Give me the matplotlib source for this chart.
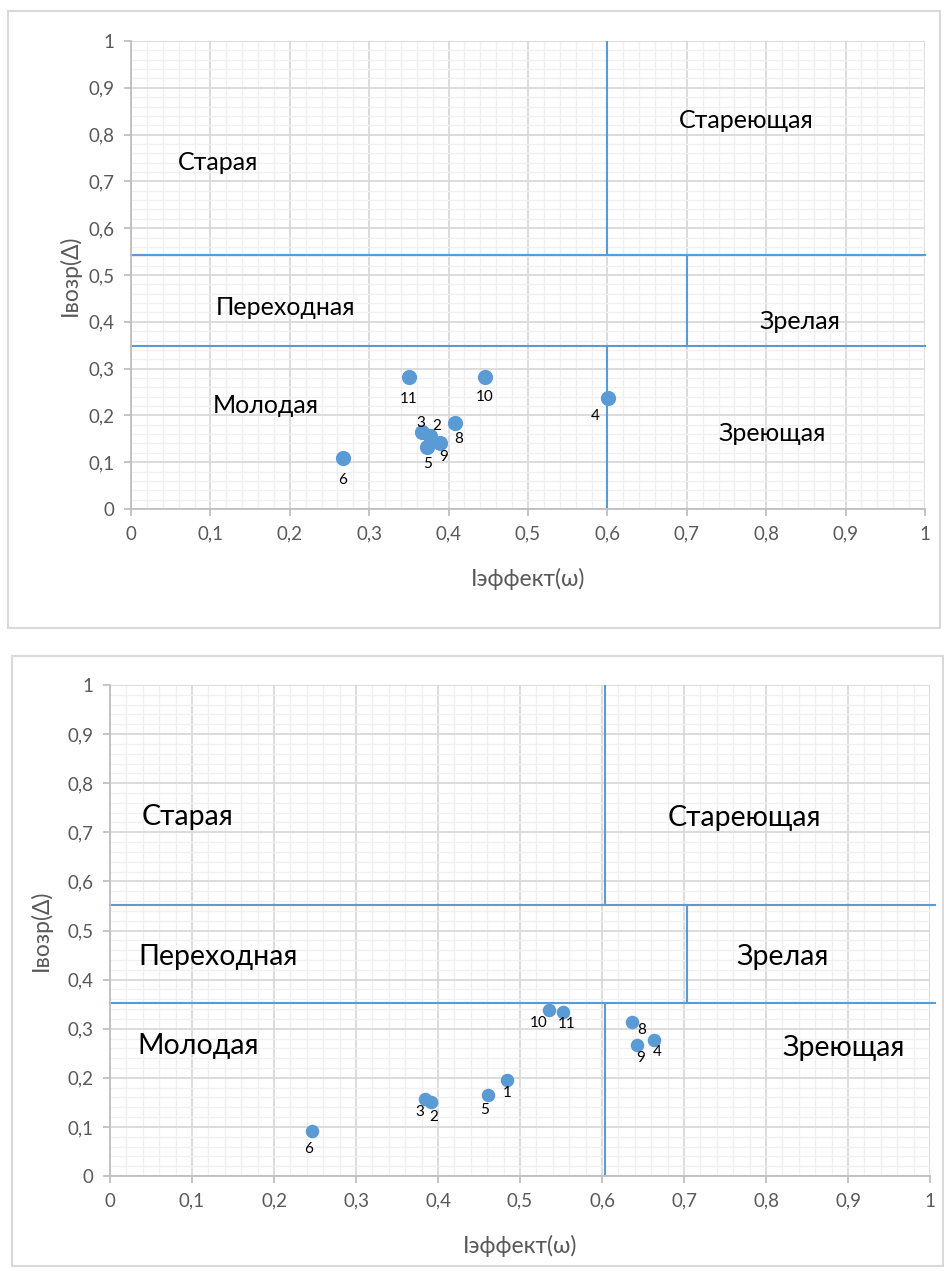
import matplotlib
matplotlib.use("Agg")
import matplotlib.pyplot as plt
import numpy as np
from matplotlib.ticker import MultipleLocator, FuncFormatter
from matplotlib.patches import Rectangle

plt.rcParams['font.family'] = ['Lato', 'DejaVu Sans']

# --- data: upper chart ---
top_ids = ['11', '10', '3', '2', '8', '5', '9', '6', '4']
top_x = [0.350, 0.446, 0.366, 0.376, 0.408, 0.373, 0.389, 0.267, 0.601]
top_y = [0.282, 0.282, 0.165, 0.156, 0.183, 0.133, 0.142, 0.110, 0.237]
top_lbl_off = [(0, -22), (0, -20), (-1, 9), (7, 10), (4, -16), (0, -17), (4, -14), (0, -22), (-13, -18)]

# --- data: lower chart ---
bot_ids = ['6', '3', '2', '5', '1', '10', '11', '8', '9', '4']
bot_x = [0.246, 0.384, 0.392, 0.461, 0.484, 0.535, 0.552, 0.637, 0.643, 0.663]
bot_y = [0.092, 0.157, 0.151, 0.164, 0.196, 0.338, 0.333, 0.313, 0.267, 0.277]
bot_lbl_off = [(-3, -18), (-5, -13), (2, -15), (-3, -15), (0, -13), (-10, -13), (4, -12), (9, -8), (3, -13), (4, -12)]

# zone borders
top_h = [0.543, 0.348]
bot_h = [0.552, 0.352]
top_v = [0.6, 0.7]
bot_v = [0.604, 0.704]
zone_names = ['Старая', 'Стареющая', 'Переходная', 'Зрелая', 'Молодая', 'Зреющая']
top_zone_xy = [(0.11, 0.74), (0.775, 0.831), (0.194, 0.43), (0.843, 0.40), (0.17, 0.222), (0.807, 0.162)]
bot_zone_xy = [(0.095, 0.731), (0.774, 0.729), (0.132, 0.446), (0.82, 0.446), (0.107, 0.265), (0.894, 0.261)]

blue = '#5b9bd5'
grey_txt = '#595959'

fig = plt.figure(figsize=(9.44, 12.71), dpi=100)

# chart frames
fig.add_artist(Rectangle((8/944, 1-628/1271), 932/944, 617/1271, transform=fig.transFigure,
                         fill=False, edgecolor='#d9d9d9', lw=1.5))
fig.add_artist(Rectangle((12/944, 1-1266/1271), 931/944, 610/1271, transform=fig.transFigure,
                         fill=False, edgecolor='#d9d9d9', lw=1.5))


def fmt(v, pos):
    if abs(v - round(v)) < 1e-9:
        return str(int(round(v)))
    return f"{v:.1f}".replace('.', ',')


def draw(ax, xs, ys, ids, offs, hl, vl, zxy, fs_zone, hx_max, ms, ypad):
    ax.set_xlim(0, 1)
    ax.set_ylim(0, 1)
    ax.xaxis.set_major_locator(MultipleLocator(0.1))
    ax.yaxis.set_major_locator(MultipleLocator(0.1))
    ax.xaxis.set_minor_locator(MultipleLocator(0.02))
    ax.yaxis.set_minor_locator(MultipleLocator(0.02))
    ax.xaxis.set_major_formatter(FuncFormatter(fmt))
    ax.yaxis.set_major_formatter(FuncFormatter(fmt))
    ax.grid(which='minor', color='#f0f0f0', lw=1.0)
    ax.grid(which='major', color='#d9d9d9', lw=1.3)
    ax.set_axisbelow(True)
    for s in ['top', 'right']:
        ax.spines[s].set_visible(False)
    for s in ['left', 'bottom']:
        ax.spines[s].set_color('#bfbfbf')
        ax.spines[s].set_linewidth(1.3)
    ax.tick_params(which='major', length=5, color='#bfbfbf', width=1.3,
                   labelsize=13.5, labelcolor=grey_txt, pad=7)
    ax.tick_params(which='minor', length=0)

    # zone borders
    ax.plot([vl[0], vl[0]], [hl[0], 1], color=blue, lw=1.5)
    ax.plot([vl[0], vl[0]], [0, hl[1]], color=blue, lw=1.5)
    ax.plot([vl[1], vl[1]], [hl[1], hl[0]], color=blue, lw=1.5)
    for h in hl:
        ax.plot([0, hx_max], [h, h], color=blue, lw=1.5, clip_on=False)

    for name, (zx, zy) in zip(zone_names, zxy):
        ax.text(zx, zy, name, fontsize=fs_zone, ha='center', va='center', color='black')

    ax.scatter(xs, ys, s=ms, color=blue, zorder=5, linewidths=0)
    for i, x, y, (dx, dy) in zip(ids, xs, ys, offs):
        ax.annotate(i, (x, y), xytext=(dx, dy), textcoords='offset pixels',
                    ha='center', va='center', fontsize=11, color='black', zorder=6)

    ax.set_xlabel('Iэффект(ω)', fontsize=16.5, color=grey_txt, labelpad=18)
    ax.set_ylabel('Iвозр(Δ)', fontsize=16.5, color=grey_txt, labelpad=ypad)


ax1 = fig.add_axes([131/944, 1-509/1271, 794/944, 468/1271])
draw(ax1, top_x, top_y, top_ids, top_lbl_off, top_h, top_v, top_zone_xy, 18, 1.0, 120, 5)

ax2 = fig.add_axes([110/944, 1-1176/1271, 820/944, 491/1271])
draw(ax2, bot_x, bot_y, bot_ids, bot_lbl_off, bot_h, bot_v, bot_zone_xy, 20.5, 1.006, 95, 11)

fig.savefig('out.png', dpi=100)
